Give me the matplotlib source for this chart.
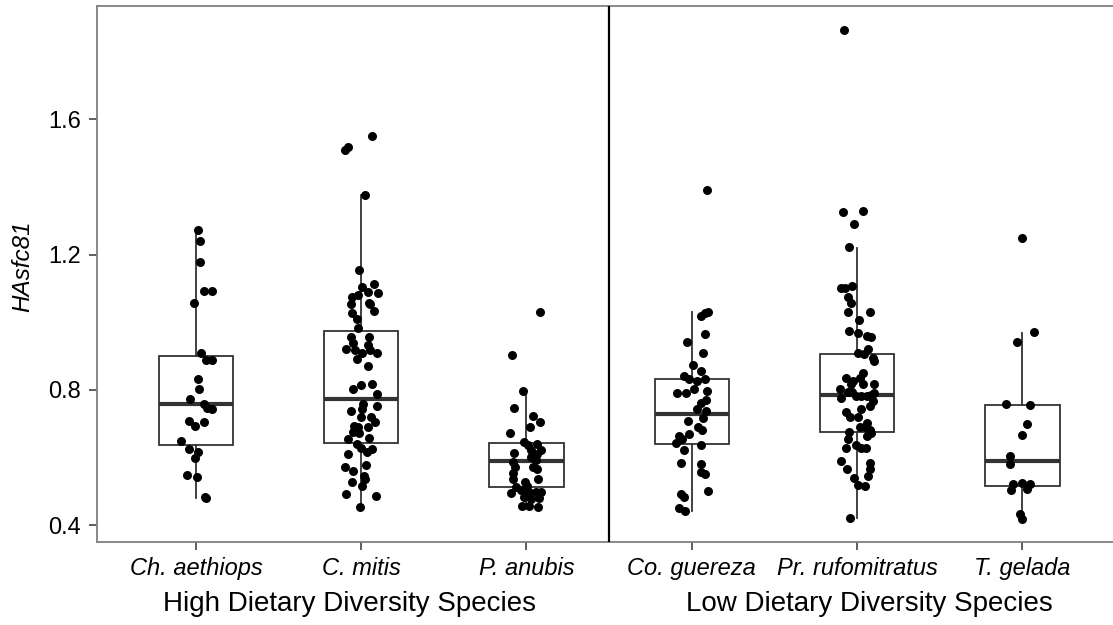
import numpy as np
import matplotlib.pyplot as plt

plt.rcParams['font.family'] = ['Liberation Sans', 'DejaVu Sans']

species = ['Ch. aethiops', 'C. mitis', 'P. anubis',
           'Co. guereza', 'Pr. rufomitratus', 'T. gelada']
group_titles = ['High Dietary Diversity Species', 'Low Dietary Diversity Species']

# box summaries (lower whisker, q1, median, q3, upper whisker)
box_whislo = [0.480, 0.450, 0.455, 0.443, 0.421, 0.420]
box_q1     = [0.637, 0.642, 0.514, 0.640, 0.675, 0.516]
box_med    = [0.757, 0.772, 0.591, 0.728, 0.784, 0.591]
box_q3     = [0.900, 0.975, 0.642, 0.831, 0.907, 0.755]
box_whishi = [1.272, 1.375, 0.800, 1.031, 1.219, 0.969]

# individual HAsfc81 values and their horizontal jitter
ch_aethiops = [1.272, 1.241, 1.178, 1.093, 1.093, 1.058, 0.908, 0.888, 0.888,
               0.833, 0.804, 0.774, 0.758, 0.747, 0.744, 0.709, 0.693, 0.704,
               0.650, 0.626, 0.616, 0.599, 0.548, 0.543, 0.484, 0.480]
ch_aethiops_dx = [0.010, 0.027, 0.022, 0.050, 0.095, -0.012, 0.030, 0.063, 0.099,
                  0.010, 0.018, -0.034, 0.047, 0.067, 0.095, -0.044, -0.008, 0.047,
                  -0.092, -0.042, 0.014, -0.006, -0.056, 0.008, 0.054, 0.060]

c_mitis = [1.551, 1.509, 1.518, 1.375, 1.154, 1.103, 1.113, 1.085, 1.090, 1.075,
           1.080, 1.054, 1.058, 1.053, 1.028, 1.034, 1.009, 0.982, 0.957, 0.957,
           0.939, 0.920, 0.918, 0.934, 0.918, 0.908, 0.908, 0.892, 0.871, 0.804,
           0.814, 0.817, 0.788, 0.758, 0.745, 0.752, 0.739, 0.719, 0.721, 0.705,
           0.693, 0.691, 0.689, 0.676, 0.674, 0.654, 0.657, 0.640, 0.627, 0.617,
           0.624, 0.611, 0.578, 0.571, 0.561, 0.546, 0.536, 0.529, 0.516, 0.492,
           0.488, 0.453]
c_mitis_dx = [0.064, -0.095, -0.079, 0.024, -0.016, 0.006, 0.077, 0.101, 0.042, -0.056,
              -0.020, -0.064, 0.046, 0.056, -0.056, 0.077, -0.026, -0.020, -0.060, 0.046,
              -0.050, -0.091, -0.040, 0.044, 0.052, 0.004, 0.097, -0.024, 0.044, -0.048,
              -0.004, 0.068, 0.097, 0.012, 0.004, 0.097, -0.064, -0.004, 0.060, 0.081,
              -0.044, -0.020, 0.044, -0.048, -0.016, -0.081, 0.046, -0.024, 0.000, 0.036,
              0.068, -0.077, 0.032, -0.100, -0.048, 0.016, 0.024, -0.056, 0.004, -0.089,
              0.091, -0.006]

p_anubis = [1.029, 0.903, 0.798, 0.746, 0.723, 0.705, 0.691, 0.674, 0.647, 0.638,
            0.641, 0.622, 0.614, 0.622, 0.610, 0.601, 0.588, 0.592, 0.571, 0.571,
            0.565, 0.554, 0.536, 0.536, 0.529, 0.514, 0.516, 0.504, 0.496, 0.499,
            0.499, 0.499, 0.484, 0.480, 0.478, 0.458, 0.458, 0.453]
p_anubis_dx = [0.080, -0.090, -0.021, -0.076, 0.041, 0.082, 0.021, -0.100, -0.015, 0.009,
               0.065, 0.086, -0.076, 0.025, 0.065, 0.025, -0.084, 0.057, -0.072, 0.037,
               0.065, -0.080, 0.069, -0.084, -0.011, -0.065, 0.001, -0.035, -0.096, 0.015,
               0.055, 0.086, -0.015, 0.076, 0.025, -0.029, 0.015, 0.069]

co_guereza = [1.391, 1.031, 1.028, 1.018, 0.965, 0.941, 0.908, 0.874, 0.857, 0.842,
              0.831, 0.827, 0.833, 0.804, 0.792, 0.792, 0.798, 0.770, 0.760, 0.743,
              0.739, 0.716, 0.709, 0.691, 0.681, 0.670, 0.665, 0.654, 0.642, 0.637,
              0.622, 0.583, 0.581, 0.558, 0.553, 0.501, 0.492, 0.484, 0.450, 0.443]
co_guereza_dx = [0.089, 0.099, 0.081, 0.054, 0.079, -0.030, 0.066, 0.006, 0.058, -0.046,
                 -0.018, 0.034, 0.079, 0.014, -0.091, -0.034, 0.091, 0.083, 0.054, 0.034,
                 0.083, 0.070, -0.026, 0.038, 0.062, -0.014, -0.077, -0.062, -0.095, 0.054,
                 -0.050, -0.066, 0.054, 0.054, 0.079, 0.095, -0.066, -0.050, -0.077, -0.042]

pr_rufomitratus = [1.863, 1.326, 1.329, 1.289, 1.222, 1.101, 1.101, 1.108, 1.073, 1.057,
                   1.031, 1.031, 1.006, 0.973, 0.967, 0.959, 0.955, 0.922, 0.908, 0.907,
                   0.894, 0.886, 0.851, 0.835, 0.834, 0.825, 0.817, 0.816, 0.817, 0.804,
                   0.794, 0.793, 0.782, 0.782, 0.782, 0.784, 0.791, 0.777, 0.767, 0.752,
                   0.736, 0.719, 0.719, 0.743, 0.703, 0.690, 0.690, 0.682, 0.673, 0.665,
                   0.675, 0.655, 0.638, 0.629, 0.628, 0.629, 0.589, 0.566, 0.583, 0.566,
                   0.546, 0.540, 0.518, 0.515, 0.421]
pr_rufomitratus_dx = [-0.079, -0.087, 0.033, -0.017, -0.050, -0.100, -0.071, -0.033, -0.058, -0.037,
                      -0.054, 0.075, 0.010, -0.050, 0.004, 0.062, 0.083, 0.067, 0.004, 0.042,
                      0.094, 0.104, 0.037, -0.067, 0.017, -0.025, -0.037, 0.033, 0.104, -0.104,
                      -0.058, -0.029, -0.004, 0.025, 0.062, 0.083, 0.104, -0.100, 0.096, 0.079,
                      -0.067, -0.046, 0.004, 0.025, 0.058, 0.017, 0.046, 0.075, 0.083, 0.062,
                      -0.050, -0.058, -0.008, 0.025, 0.054, -0.067, -0.100, -0.062, 0.075, 0.079,
                      0.067, -0.017, 0.004, 0.050, -0.042]

t_gelada = [1.248, 0.971, 0.942, 0.757, 0.755, 0.698, 0.667, 0.605, 0.580, 0.522,
            0.504, 0.524, 0.522, 0.508, 0.433, 0.418]
t_gelada_dx = [0.000, 0.071, -0.030, -0.098, 0.045, 0.030, -0.004, -0.074, -0.074, -0.058,
               -0.070, -0.004, 0.047, 0.030, -0.014, -0.004]

values = [ch_aethiops, c_mitis, p_anubis, co_guereza, pr_rufomitratus, t_gelada]
jitter = [ch_aethiops_dx, c_mitis_dx, p_anubis_dx, co_guereza_dx,
          pr_rufomitratus_dx, t_gelada_dx]

W, H = 1113, 625
fig = plt.figure(figsize=(W / 100, H / 100), dpi=100)
# panel runs a bit past the right edge of the canvas
ax = fig.add_axes([96.7 / W, 1 - 542 / H, (1121.6 - 96.7) / W, (542 - 5.5) / H])

positions = np.arange(1, len(species) + 1)
stats = []
for i in range(len(species)):
    stats.append(dict(med=box_med[i], q1=box_q1[i], q3=box_q3[i],
                      whislo=box_whislo[i], whishi=box_whishi[i], fliers=[]))

line_col = '#333333'
ax.bxp(stats, positions=positions, widths=0.45, showcaps=False, showfliers=False,
       patch_artist=True,
       boxprops=dict(facecolor='white', edgecolor=line_col, linewidth=1.3),
       whiskerprops=dict(color=line_col, linewidth=1.3),
       medianprops=dict(color=line_col, linewidth=3.0),
       zorder=2)

for pos, vals, dx in zip(positions, values, jitter):
    ax.scatter(pos + np.array(dx), vals, s=42, color='black', linewidths=0, zorder=3)

ax.axvline(3.5, color='black', linewidth=1.6, zorder=4)

ax.set_xlim(0.4, 6.6)
ax.set_ylim(0.3507, 1.9356)
ax.set_yticks([0.4, 0.8, 1.2, 1.6])
ax.set_yticklabels(['0.4', '0.8', '1.2', '1.6'])
ax.set_xticks(positions)
ax.set_xticklabels(species, fontstyle='italic')

for side in ['left', 'bottom', 'top', 'right']:
    ax.spines[side].set_color('#7f7f7f')
    ax.spines[side].set_linewidth(1.3)

ax.tick_params(axis='both', length=6, width=1.1, color=line_col, labelsize=17,
               labelcolor='black')
ax.tick_params(axis='x', pad=4.5)
ax.tick_params(axis='y', pad=5.5)

fig.text(23 / W, 1 - 266 / H, 'HAsfc81', rotation=90, fontsize=17.5,
         fontstyle='italic', ha='center', va='center')
fig.text(349.7 / W, 1 - 604 / H, group_titles[0], fontsize=20,
         ha='center', va='center')
fig.text(869.7 / W, 1 - 604 / H, group_titles[1], fontsize=20,
         ha='center', va='center')

fig.savefig('out.png', dpi=100)
